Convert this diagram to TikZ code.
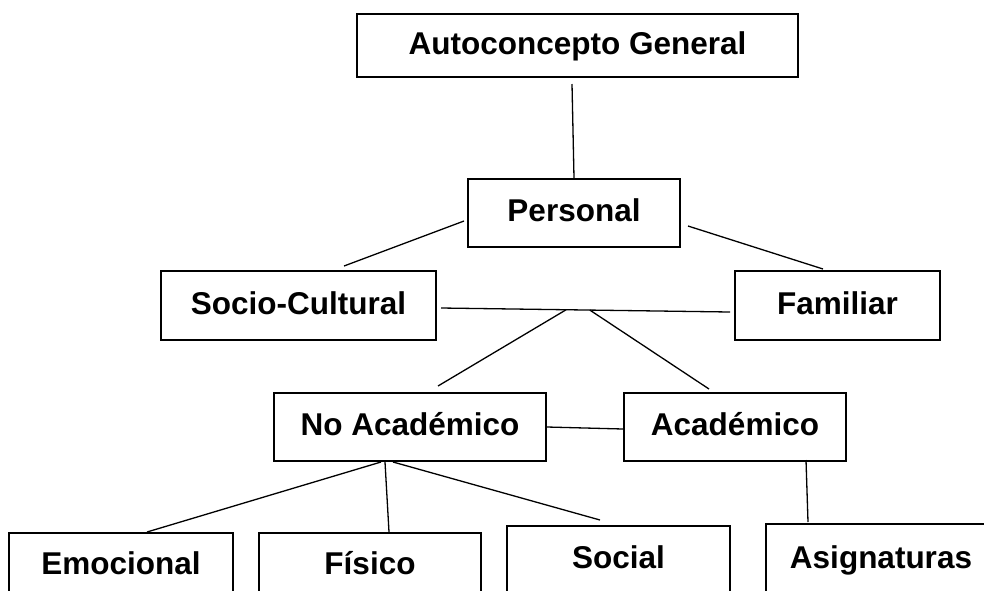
\documentclass[tikz,border=0pt]{standalone}
\usepackage{fontspec}
\setmainfont{Liberation Sans}
\begin{document}
\begin{tikzpicture}[x=1pt,y=-1pt,
	caja/.style={rectangle,draw,line width=2pt,inner sep=0pt,font=\fontsize{31.5}{36}\selectfont\bfseries,text height=23pt,text depth=6pt},
	cajab/.style={caja,anchor=north,text depth=45pt},
	linea/.style={line width=1.3pt}]
		\useasboundingbox (0,0) rectangle (984,590);
		\clip (0,0) rectangle (984,590);
%		niveles superiores
		\node [caja,minimum width=441pt,minimum height=63pt] (auto) at (577.5,45.5) {Autoconcepto General};
		\node [caja,minimum width=212pt,minimum height=68pt] (per) at (574,213) {Personal};
		\node [caja,minimum width=275pt,minimum height=69pt] (soc) at (298.5,305.5) {Socio-Cultural};
		\node [caja,minimum width=205pt,minimum height=69pt] (fam) at (837.5,305.5) {Familiar};
		\node [caja,minimum width=272pt,minimum height=68pt] (noac) at (410,427) {No Académico};
		\node [caja,minimum width=222pt,minimum height=68pt] (acad) at (735,427) {Académico};
%		cajas de abajo
		\node [cajab,minimum width=224pt,text height=41pt] (emo) at (121,532) {Emocional};
		\node [cajab,minimum width=222pt,text height=41pt] (fis) at (370,532) {Físico};
		\node [cajab,minimum width=223pt,text height=42pt] (soci) at (618.5,525) {Social};
		\node [cajab,minimum width=230pt,text height=44pt] (asig) at (881,523) {Asignaturas};
%		lineas
		\draw [linea] ([xshift=-5.5pt,yshift=-6pt]auto.south) -- (per.north);
		\draw [linea] ([xshift=-3pt,yshift=-8pt]per.west) -- ([xshift=45.5pt,yshift=4pt]soc.north);
		\draw [linea] ([xshift=7pt,yshift=-13pt]per.east) -- ([xshift=-14.5pt,yshift=1pt]fam.north);
		\draw [linea] ([xshift=4pt,yshift=-2.5pt]soc.east) -- coordinate[pos=0.433] (br1) coordinate[pos=0.515] (br2) ([xshift=-4pt,yshift=-6.5pt]fam.west);
		\draw [linea] (br1) -- ([xshift=28pt,yshift=6pt]noac.north);
		\draw [linea] (br2) -- ([xshift=-26pt,yshift=3pt]acad.north);
		\draw [linea] (noac.east) -- ([yshift=-2pt]acad.west);
		\draw [linea] ([xshift=-29pt]noac.south) -- ([xshift=26pt]emo.north);
		\draw [linea] ([xshift=-25pt]noac.south) -- ([xshift=19pt]fis.north);
		\draw [linea] ([xshift=-17pt]noac.south) -- ([xshift=-18.5pt,yshift=5pt]soci.north);
		\draw [linea] ([xshift=71pt,yshift=2pt]acad.south) -- ([xshift=-73pt,yshift=1pt]asig.north);
	\end{tikzpicture}
\end{document}
